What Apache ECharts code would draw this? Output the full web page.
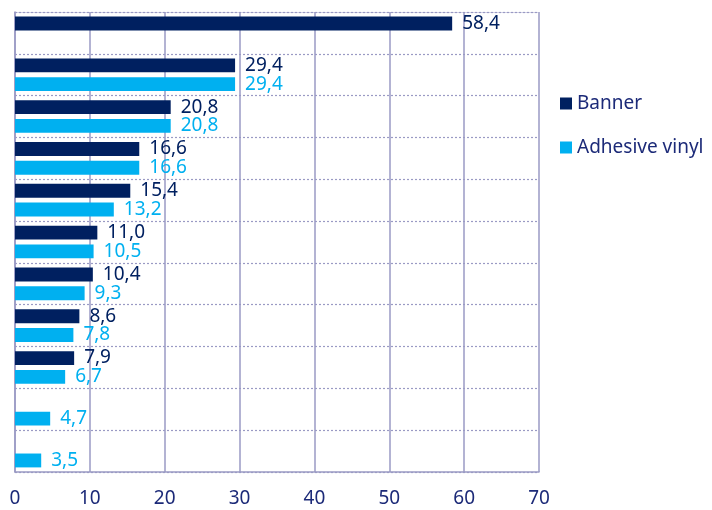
<!DOCTYPE html>
<html>
<head>
<meta charset="utf-8">
<script src="https://cdn.jsdelivr.net/npm/echarts@6/dist/echarts.min.js"></script>
<style>
  html, body { margin: 0; padding: 0; background: #fff; }
  #chart { width: 712px; height: 510px; }
</style>
</head>
<body>
<div id="chart"></div>
<script>
const categories = ["1", "2", "3", "4", "5", "6", "7", "8", "9", "10", "11"];
const seriesNames = ["Banner", "Adhesive vinyl"];
const banner = [58.4, 29.4, 20.8, 16.6, 15.4, 11.0, 10.4, 8.6, 7.9, null, null];
const adhesiveVinyl = [null, 29.4, 20.8, 16.6, 13.2, 10.5, 9.3, 7.8, 6.7, 4.7, 3.5];
const xTicks = [0, 10, 20, 30, 40, 50, 60, 70];

const navy = "#002060";
const cyan = "#00b0f0";
const textNavy = "#1c2a78";
const gridColor = "#9a9ac4";
const font = "Noto Sans";

const chart = echarts.init(document.getElementById("chart"));

const fmt = (p) => p.value.toFixed(1).replace(".", ",");

const option = {
  animation: false,
  textStyle: { fontFamily: font },
  grid: { left: 15, right: 173, top: 12, bottom: 38, containLabel: false },
  legend: {
    orient: "vertical",
    left: 555,
    top: 89,
    itemWidth: 12,
    itemHeight: 12,
    itemGap: 25,
    icon: "rect",
    textStyle: { color: textNavy, fontSize: 19, fontFamily: font },
    data: seriesNames
  },
  xAxis: [
    {
      type: "value",
      min: xTicks[0],
      max: xTicks[xTicks.length - 1],
      interval: 10,
      axisLine: { show: true, lineStyle: { color: gridColor, width: 1.5 } },
      axisTick: { show: false },
      axisLabel: { color: textNavy, fontSize: 19, margin: 17, fontFamily: font },
      splitLine: { show: true, lineStyle: { color: gridColor, width: 1.5 } }
    },
    {
      // top border, dotted like the category separators
      type: "value",
      position: "top",
      min: xTicks[0],
      max: xTicks[xTicks.length - 1],
      interval: 10,
      axisLine: { show: true, lineStyle: { color: gridColor, type: [2, 2], width: 1.2 } },
      axisTick: { show: false },
      axisLabel: { show: false },
      splitLine: { show: false }
    }
  ],
  yAxis: {
    type: "category",
    inverse: true,
    data: categories,
    axisLine: { show: true, lineStyle: { color: gridColor, width: 1.5 } },
    axisTick: { show: false },
    axisLabel: { show: false },
    splitLine: { show: true, lineStyle: { color: gridColor, type: [2, 2], width: 1.2 } }
  },
  series: [
    {
      name: seriesNames[0],
      type: "bar",
      data: banner,
      itemStyle: { color: navy },
      barGap: "35%",
      barCategoryGap: "22%",
      label: {
        show: true,
        position: "right",
        distance: 10,
        color: navy,
        fontSize: 19,
        fontFamily: font,
        formatter: fmt
      }
    },
    {
      name: seriesNames[1],
      type: "bar",
      data: adhesiveVinyl,
      itemStyle: { color: cyan },
      barGap: "35%",
      barCategoryGap: "22%",
      label: {
        show: true,
        position: "right",
        distance: 10,
        color: cyan,
        fontSize: 19,
        fontFamily: font,
        formatter: fmt
      }
    }
  ]
};

chart.setOption(option);
</script>
</body>
</html>
